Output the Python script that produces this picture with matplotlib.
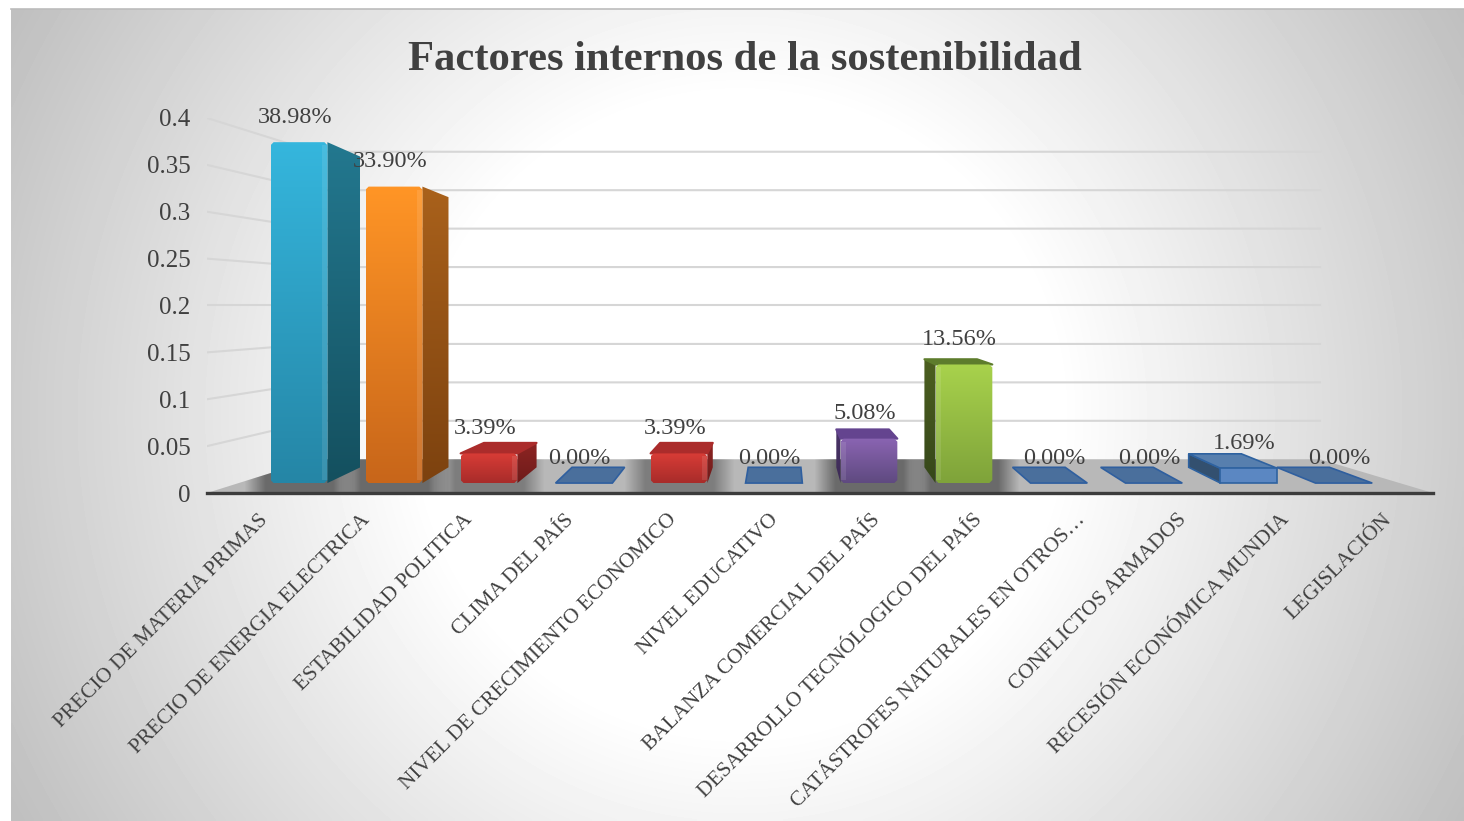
# -*- coding: utf-8 -*-
import numpy as np
import matplotlib
matplotlib.use("Agg")
import matplotlib.pyplot as plt
from matplotlib.colors import to_rgb
from matplotlib.patches import Polygon

plt.rcParams["font.family"] = ["Liberation Serif", "DejaVu Serif"]

title = "Factores internos de la sostenibilidad"
categories = ["PRECIO DE MATERIA PRIMAS", "PRECIO DE ENERGIA ELECTRICA", "ESTABILIDAD POLITICA",
              "CLIMA DEL PAÍS", "NIVEL DE CRECIMIENTO ECONOMICO", "NIVEL EDUCATIVO",
              "BALANZA COMERCIAL DEL PAÍS", "DESARROLLO TECNÓLOGICO DEL PAÍS",
              "CATÁSTROFES NATURALES EN OTROS…", "CONFLICTOS ARMADOS",
              "RECESIÓN ECONÓMICA MUNDIA", "LEGISLACIÓN"]
values = [0.3898, 0.3390, 0.0339, 0.0, 0.0339, 0.0, 0.0508, 0.1356, 0.0, 0.0, 0.0169, 0.0]
yticks = [0, 0.05, 0.1, 0.15, 0.2, 0.25, 0.3, 0.35, 0.4]
yticklabels = ["0", "0.05", "0.1", "0.15", "0.2", "0.25", "0.3", "0.35", "0.4"]

# front top, front bottom, side top, side bottom, top face
bar_colors = {0: ("#35b6dd", "#2586a6", "#23788f", "#14505f", "#2a8fae"),
              1: ("#ff9526", "#c8661a", "#a9611b", "#7d420f", "#c87a20"),
              2: ("#d83c36", "#a82c2a", "#8e2523", "#6e1b1a", "#ab2c2b"),
              4: ("#d83c36", "#a82c2a", "#8e2523", "#6e1b1a", "#ab2c2b"),
              6: ("#8a64b2", "#5f4a80", "#4a3468", "#3c2a55", "#64448f"),
              7: ("#a8d24c", "#7fa33a", "#4c5f20", "#36471a", "#5d7c2c")}

W, H = 1464, 821
XMIN, XMAX = -0.635, 11.588   # front plane ends of the category axis
VX, VY = 5.327, 0.2           # vanishing point
S_FRONT_BAR, S_BACK_BAR, S_WALL = 0.947, 0.863, 0.82
HALF = 0.299                  # half bar width
BAR_H = 0.985                 # bevel takes a bit off the height
INK = "#404040"


def project(x, v, s):
    return VX + (x - VX) * s, VY + (v - VY) * s


def barFront(x, v):
    return project(x, v, S_FRONT_BAR)


def barBack(x, v):
    xf, _ = project(x, v, S_FRONT_BAR)
    _, yb = project(x, v, S_BACK_BAR)
    return xf + (5.10 - xf) * 0.0725, yb


def gradientFace(ax, verts, c1, c2, z):
    """polygon filled with a vertical gradient c1 (top) to c2 (bottom)"""
    pts = np.array(verts)
    poly = Polygon(pts, closed=True, facecolor="none", edgecolor="none", zorder=z)
    ax.add_patch(poly)
    t = np.linspace(0, 1, 64)[:, None, None]
    img = np.array(to_rgb(c1))[None, None, :] * (1 - t) + np.array(to_rgb(c2))[None, None, :] * t
    im = ax.imshow(img, extent=[pts[:, 0].min(), pts[:, 0].max(), pts[:, 1].min(), pts[:, 1].max()],
                   origin="upper", aspect="auto", interpolation="bilinear", zorder=z)
    im.set_clip_path(poly)


def floorShadow(ax, i, floor, strength):
    """soft dark patch on the floor around a bar"""
    xs = np.linspace(i - 0.58, i + 0.58, 120)
    ys = np.linspace(-0.012, 0.048, 40)
    ex = np.clip((0.58 - np.abs(xs - i)) / 0.22, 0, 1)
    ey = np.clip((0.03 - np.abs(ys - 0.018)) / 0.018 + 0.3, 0, 1)
    a = strength * np.outer(ey, ex)
    img = np.zeros((40, 120, 4))
    img[..., 3] = a
    xf0 = project(i - 0.58, 0, S_FRONT_BAR)[0]
    xf1 = project(i + 0.58, 0, S_FRONT_BAR)[0]
    im = ax.imshow(img, extent=[xf0, xf1, -0.012, 0.048], origin="lower", aspect="auto",
                   interpolation="bilinear", zorder=2)
    im.set_clip_path(floor)


fig = plt.figure(figsize=(W / 100, H / 100), dpi=100, facecolor="white")

# background gradient
bg = fig.add_axes([0, 0, 1, 1], zorder=0)
bx, by = np.meshgrid(np.linspace(11, W, 400), np.linspace(9, H, 220))
r = np.hypot(bx - 740, by - 415) / 832
g = 1 - 0.25 * np.clip((r - 0.385) / 0.615, 0, 1)
bg.imshow(g, extent=[11, W, H, 9], cmap="gray", vmin=0, vmax=1, aspect="auto", interpolation="bilinear")
bg.plot([11, W], [9, 9], color="#bcbcbc", lw=1.2)
bg.set_xlim(0, W)
bg.set_ylim(H, 0)
bg.axis("off")

ax = fig.add_axes([207 / W, (H - 493) / H, (1433 - 207) / W, (493 - 118) / H], zorder=1)
ax.patch.set_visible(False)

# gridlines, back wall and left wall
for v in yticks:
    x0, y0 = project(XMIN, v, 1)
    x1, y1 = project(XMIN, v, S_WALL)
    x2, y2 = project(XMAX, v, S_WALL)
    if v > 0:
        ax.plot([x0, x1, x2], [y0, y1, y2], color="#d6d6d6", lw=1.5, zorder=1, solid_joinstyle="miter")

# floor
floorPts = [project(XMIN, 0, 1), project(XMAX, 0, 1), project(XMAX, 0, S_WALL), project(XMIN, 0, S_WALL)]
floor = Polygon(floorPts, closed=True, facecolor="#b8b8b8", edgecolor="none", zorder=1.5)
ax.add_patch(floor)

for i, v in enumerate(values):
    if i in bar_colors:
        floorShadow(ax, i, floor, 0.42 if v > 0.04 else 0.32)

# bars
cx, cy = 3 / 100.3, 3 / 940
for i, v in enumerate(values):
    h = v * BAR_H
    xl, xr = i - HALF, i + HALF
    if v == 0:
        pts = [barFront(xl, 0), barFront(xr, 0), barBack(xr, 0), barBack(xl, 0)]
        ax.add_patch(Polygon(pts, closed=True, facecolor="#4a6f9c", edgecolor="#2f5f9f", lw=1.2, zorder=3))
    elif i not in bar_colors:
        # the small see-through bar
        edge = "#2e62a0"
        faces = [([barBack(xl, 0), barBack(xr, 0), barBack(xr, h), barBack(xl, h)], "#54779f"),
                 ([barBack(xl, 0), barFront(xl, 0), barFront(xl, h), barBack(xl, h)], "#33506f"),
                 ([barBack(xl, h), barBack(xr, h), barFront(xr, h), barFront(xl, h)], "#577fae"),
                 ([barFront(xl, 0), barFront(xr, 0), barFront(xr, h), barFront(xl, h)], "#5b87c2")]
        for n, (pts, col) in enumerate(faces):
            ax.add_patch(Polygon(pts, closed=True, facecolor=col, edgecolor=edge, lw=1.2, zorder=3 + n * 0.1))
    else:
        c = bar_colors[i]
        # low bars look a little flatter because of the rounded top edge
        hb = h - cy if v < 0.1 else h
        # side face towards the centre of the chart
        side = xr if i < 6 else xl
        bevel = -1 if i < 6 else 1
        sidePts = [barFront(side, 0), barFront(side, h), barBack(side, hb), barBack(side, 0)]
        gradientFace(ax, sidePts, c[2], c[3], 3)
        if v < VY:
            topPts = [barFront(xl, h), barFront(xr, h), barBack(xr, hb), barBack(xl, hb)]
            ax.add_patch(Polygon(topPts, closed=True, facecolor=c[4], edgecolor=c[4], lw=1.5,
                                 joinstyle="round", zorder=3.1))
        fx0, y0 = barFront(xl, 0)
        fx1, y1 = barFront(xr, h)
        front = [(fx0 + cx, y0), (fx1 - cx, y0), (fx1, y0 + cy), (fx1, y1 - cy), (fx1 - cx, y1),
                 (fx0 + cx, y1), (fx0, y1 - cy), (fx0, y0 + cy)]
        gradientFace(ax, front, c[0], c[1], 3.2)
        # lighter strip along the edge next to the side face
        sx = barFront(side, 0)[0]
        strip = [(sx, y0 + cy), (sx + bevel * 0.05, y0 + cy), (sx + bevel * 0.05, y1 - cy), (sx, y1 - cy)]
        ax.add_patch(Polygon(strip, closed=True, facecolor="white", edgecolor="none", alpha=0.1, zorder=3.3))

# data labels
for i, v in enumerate(values):
    px, py = barFront(i, v * BAR_H)
    ax.annotate("{:.2f}%".format(v * 100), xy=(px, py), xytext=(-3, 18), textcoords="offset points",
                ha="center", va="center", fontsize=17.5, color=INK, zorder=6, annotation_clip=False)

ax.set_xlim(XMIN, XMAX)
ax.set_ylim(0, 0.4)
# category labels sit at the middle of each slot of the front edge
step = (XMAX - XMIN) / len(categories)
ax.set_xticks([XMIN + (i + 0.5) * step for i in range(len(categories))])
ax.set_xticklabels(categories, rotation=45, ha="right", rotation_mode="anchor", fontsize=15.4, color=INK)
ax.set_yticks(yticks)
ax.set_yticklabels(yticklabels, fontsize=18, color=INK)
ax.tick_params(axis="x", length=0, pad=12.5)
ax.tick_params(axis="y", length=0, pad=12)
for name in ["top", "left", "right"]:
    ax.spines[name].set_visible(False)
ax.spines["bottom"].set_color("#3c3c3c")
ax.spines["bottom"].set_linewidth(2.4)
ax.spines["bottom"].set_zorder(5)

fig.text(745 / W, 1 - 60 / H, title, ha="center", va="center", fontsize=30.7, fontweight="bold", color=INK)

fig.savefig("out.png", dpi=100)
